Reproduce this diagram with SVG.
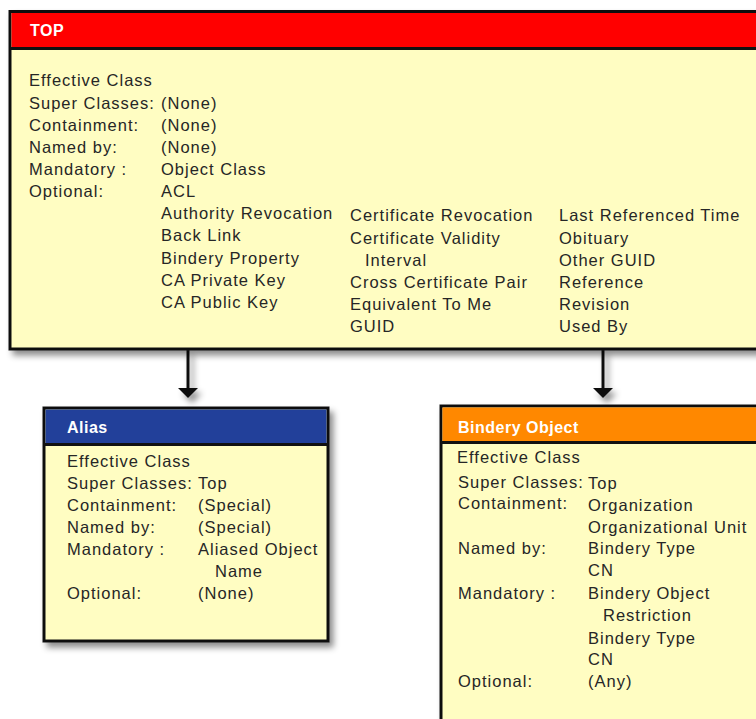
<svg xmlns="http://www.w3.org/2000/svg" width="756" height="719" viewBox="0 0 756 719">
<defs>
<style>
.box{fill:#FFFDC2;stroke:#111;stroke-width:3}
.sep{stroke:#111;stroke-width:3}
.t{font-family:"Liberation Sans",Arial,sans-serif;font-size:16.5px;letter-spacing:1px;fill:#262626}
.h{font-family:"Liberation Sans",Arial,sans-serif;font-size:16px;font-weight:bold;letter-spacing:0.5px;fill:#fff}
.conn{stroke:#111;stroke-width:3;fill:none}
</style>
<filter id="sh" x="-10%" y="-10%" width="130%" height="130%">
<feDropShadow dx="4" dy="5" stdDeviation="3" flood-color="#000" flood-opacity="0.45"/>
</filter>
</defs>
<rect width="756" height="719" fill="#fff"/>

<g id="connectors" filter="url(#sh)">
<line class="conn" x1="188" y1="350" x2="188" y2="389"/>
<path d="M178,388 L198,388 L188,398 Z" fill="#111"/>
<line class="conn" x1="603" y1="350" x2="603" y2="389"/>
<path d="M593,388 L613,388 L603,398 Z" fill="#111"/>
</g>

<g id="top">
<g filter="url(#sh)">
<rect class="box" x="10" y="11.5" width="770" height="337.5"/>
</g>
<rect x="11.5" y="13" width="767" height="35" fill="#FF0000"/>
<line class="sep" x1="10" y1="48.5" x2="780" y2="48.5"/>
<text class="h" x="30" y="36">TOP</text>
<text class="t" x="29" y="86">Effective Class</text>
<text class="t" x="29" y="108.5">Super Classes:</text>
<text class="t" x="161" y="108.5">(None)</text>
<text class="t" x="29" y="130.5">Containment:</text>
<text class="t" x="161" y="130.5">(None)</text>
<text class="t" x="29" y="153">Named by:</text>
<text class="t" x="161" y="153">(None)</text>
<text class="t" x="29" y="175">Mandatory :</text>
<text class="t" x="161" y="175">Object Class</text>
<text class="t" x="29" y="197">Optional:</text>
<text class="t" x="161" y="197">ACL</text>
<text class="t" x="161" y="219">Authority Revocation</text>
<text class="t" x="161" y="241">Back Link</text>
<text class="t" x="161" y="263.5">Bindery Property</text>
<text class="t" x="161" y="285.5">CA Private Key</text>
<text class="t" x="161" y="307.5">CA Public Key</text>
<text class="t" x="350" y="221">Certificate Revocation</text>
<text class="t" x="350" y="243.5">Certificate Validity</text>
<text class="t" x="365" y="265.5">Interval</text>
<text class="t" x="350" y="287.5">Cross Certificate Pair</text>
<text class="t" x="350" y="309.5">Equivalent To Me</text>
<text class="t" x="350" y="332">GUID</text>
<text class="t" x="559" y="221">Last Referenced Time</text>
<text class="t" x="559" y="243.5">Obituary</text>
<text class="t" x="559" y="265.5">Other GUID</text>
<text class="t" x="559" y="287.5">Reference</text>
<text class="t" x="559" y="309.5">Revision</text>
<text class="t" x="559" y="332">Used By</text>
</g>

<g id="alias">
<g filter="url(#sh)">
<rect class="box" x="44" y="408" width="284" height="233"/>
</g>
<rect x="45.5" y="409.5" width="281" height="35" fill="#22409A"/>
<line class="sep" x1="44" y1="444.5" x2="328" y2="444.5"/>
<text class="h" x="67" y="433">Alias</text>
<text class="t" x="67" y="467">Effective Class</text>
<text class="t" x="67" y="489">Super Classes:</text>
<text class="t" x="198" y="489">Top</text>
<text class="t" x="67" y="511">Containment:</text>
<text class="t" x="198" y="511">(Special)</text>
<text class="t" x="67" y="533">Named by:</text>
<text class="t" x="198" y="533">(Special)</text>
<text class="t" x="67" y="555">Mandatory :</text>
<text class="t" x="198" y="555">Aliased Object</text>
<text class="t" x="215" y="577">Name</text>
<text class="t" x="67" y="599">Optional:</text>
<text class="t" x="198" y="599">(None)</text>
</g>

<g id="bindery-object">
<g filter="url(#sh)">
<rect class="box" x="441" y="406" width="340" height="330"/>
</g>
<rect x="442.5" y="407.5" width="337" height="35" fill="#FF8800"/>
<line class="sep" x1="441" y1="442.5" x2="781" y2="442.5"/>
<text class="h" x="458" y="433">Bindery Object</text>
<text class="t" x="457" y="463">Effective Class</text>
<text class="t" x="458" y="488">Super Classes:</text>
<text class="t" x="588" y="489">Top</text>
<text class="t" x="458" y="509">Containment:</text>
<text class="t" x="588" y="511">Organization</text>
<text class="t" x="588" y="533">Organizational Unit</text>
<text class="t" x="458" y="554">Named by:</text>
<text class="t" x="588" y="554">Bindery Type</text>
<text class="t" x="588" y="576">CN</text>
<text class="t" x="458" y="599">Mandatory :</text>
<text class="t" x="588" y="599">Bindery Object</text>
<text class="t" x="603" y="621">Restriction</text>
<text class="t" x="588" y="644">Bindery Type</text>
<text class="t" x="588" y="665">CN</text>
<text class="t" x="458" y="687">Optional:</text>
<text class="t" x="588" y="687">(Any)</text>
</g>
</svg>
